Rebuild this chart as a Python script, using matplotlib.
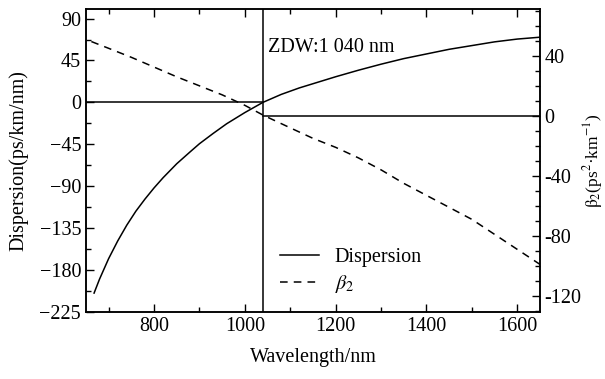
import matplotlib
matplotlib.use("Agg")
import matplotlib.pyplot as plt
from matplotlib.ticker import MultipleLocator, FuncFormatter

plt.rcParams['font.family'] = ['Liberation Serif', 'DejaVu Serif']
plt.rcParams['mathtext.fontset'] = 'stix'

# Data
wl_disp = [668, 680, 700, 720, 740, 760, 780, 800, 820, 850, 880, 900, 930, 960,
           1000, 1040, 1080, 1120, 1160, 1200, 1250, 1300, 1350, 1400, 1450,
           1500, 1550, 1600, 1650]
disp = [-205, -190, -168, -149, -132, -117, -104, -92, -81, -66, -53, -44.5, -33.5,
        -23, -11, 0, 8.5, 15.5, 21.5, 27.5, 34.5, 41, 47, 52, 57, 61, 65, 68, 70]

wl_beta = [662, 700, 750, 800, 850, 900, 950, 1000, 1040, 1100, 1150, 1200,
           1250, 1300, 1350, 1400, 1450, 1500, 1550, 1600, 1650]
beta2 = [49.5, 45, 39, 32.5, 26, 20, 14, 7, 0.5, -8, -15, -21,
         -28, -36, -45, -53, -61, -69, -79, -89, -99]

zdw = 1040
xlim = (650, 1650)
ylim_left = (-225, 100)
ylim_right = (-130.5, 71)

fig = plt.figure(figsize=(6.05, 3.79), dpi=100)
ax = fig.add_axes([0.142, 0.1776, 0.7506, 0.7979])
ax2 = ax.twinx()

fs = 14.5
lw = 1.1

l1, = ax.plot(wl_disp, disp, color='black', lw=lw, label='Dispersion')
l2, = ax2.plot(wl_beta, beta2, color='black', lw=lw, ls=(0, (5, 4)), label=r'$\beta_2$')

ax.plot([xlim[0], zdw], [0, 0], color='black', lw=lw)
ax2.plot([zdw, xlim[1]], [0, 0], color='black', lw=lw)
ax.axvline(zdw, color='black', lw=lw)

ax.set_xlim(*xlim)
ax.set_ylim(*ylim_left)
ax2.set_ylim(*ylim_right)

ax.xaxis.set_major_locator(MultipleLocator(200))
ax.xaxis.set_minor_locator(MultipleLocator(100))
ax.yaxis.set_major_locator(MultipleLocator(45))
ax.yaxis.set_minor_locator(MultipleLocator(22.5))
ax2.yaxis.set_major_locator(MultipleLocator(40))
ax2.yaxis.set_minor_locator(MultipleLocator(10))
ax2.yaxis.set_major_formatter(FuncFormatter(lambda v, p: f"{int(round(v))}"))

ax.tick_params(axis='both', which='both', direction='in', labelsize=fs)
ax.tick_params(axis='x', which='both', top=True)
ax.tick_params(which='major', length=6, width=1)
ax.tick_params(which='minor', length=3.5, width=1)
ax2.tick_params(axis='y', which='both', direction='in', labelsize=fs)
ax2.tick_params(which='major', length=6, width=1, pad=3)
ax2.tick_params(which='minor', length=3.5, width=1)

for a in (ax, ax2):
    for s in a.spines.values():
        s.set_linewidth(1.1)

ax.set_xlabel('Wavelength/nm', fontsize=fs, labelpad=9)
ax.set_ylabel('Dispersion(ps/km/nm)', fontsize=fs, labelpad=8)
ax2.set_ylabel(r'$\mathrm{\beta}_2$(ps$^2$·km$^{-1}$)', fontsize=12.5, labelpad=0,
               rotation=90)

ax.text(0.40, 0.872, 'ZDW:1 040 nm', transform=ax.transAxes, fontsize=fs,
        va='center', ha='left')

fig.legend(handles=[l1, l2], loc='upper left', bbox_to_anchor=(0.44, 0.383),
           frameon=False, fontsize=fs, handlelength=1.9, handletextpad=0.8,
           labelspacing=0.3, borderpad=0.2)

fig.savefig('out.png', dpi=100)
